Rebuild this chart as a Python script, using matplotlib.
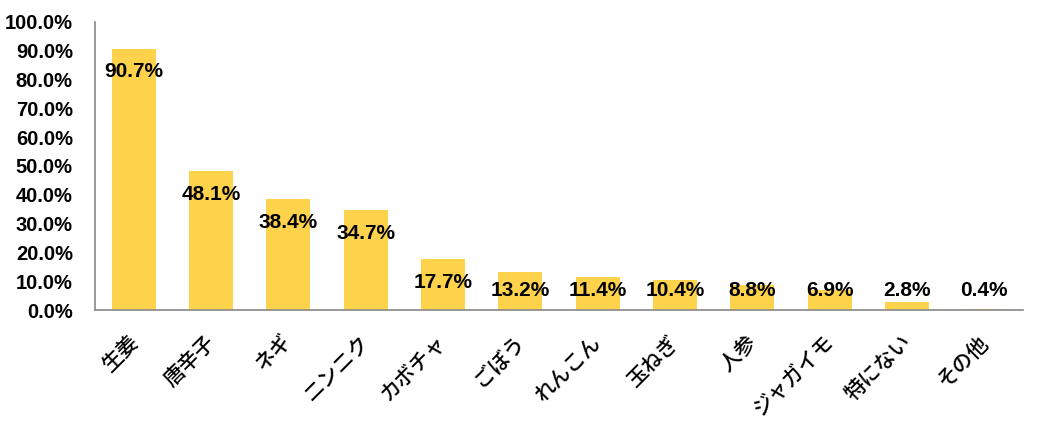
import matplotlib.pyplot as plt
import matplotlib.transforms as mtransforms
from matplotlib.ticker import PercentFormatter

categories = ["生姜", "唐辛子", "ネギ", "ニンニク", "カボチャ", "ごぼう",
              "れんこん", "玉ねぎ", "人参", "ジャガイモ", "特にない", "その他"]
values = [90.7, 48.1, 38.4, 34.7, 17.7, 13.2, 11.4, 10.4, 8.8, 6.9, 2.8, 0.4]

plt.rcParams['font.family'] = ['Liberation Sans', 'DejaVu Sans']

fig = plt.figure(figsize=(10.47, 4.29), dpi=100)
ax = fig.add_axes([95 / 1047, 1 - 310 / 429, 928 / 1047, 288 / 429])

x = range(len(categories))
ax.bar(x, values, width=0.57, color="#FFD24C")

for i, v in enumerate(values):
    y = max(v - 8, 6.6)
    ax.text(i, y, f"{v:.1f}%", ha="center", va="center",
            fontsize=15, fontweight="bold", color="black")

ax.set_xlim(-0.5, len(categories) - 0.5)
ax.set_ylim(0, 100)
ax.set_yticks(range(0, 101, 10))
ax.yaxis.set_major_formatter(PercentFormatter(decimals=1))
ax.tick_params(axis="y", length=0, pad=16, labelsize=14.5)
for lbl in ax.get_yticklabels():
    lbl.set_fontweight("bold")

ax.set_xticks(list(x))
ax.set_xticklabels(categories, rotation=45, ha="right", rotation_mode="anchor",
                   family=["Noto Sans CJK JP", "DejaVu Sans"], fontsize=15,
                   fontweight="medium")
ax.tick_params(axis="x", length=0, pad=15)
shift = mtransforms.ScaledTranslation(-7 / 100, 0, fig.dpi_scale_trans)
for lbl in ax.get_xticklabels():
    lbl.set_transform(lbl.get_transform() + shift)

for s in ["top", "right"]:
    ax.spines[s].set_visible(False)
for s in ["left", "bottom"]:
    ax.spines[s].set_color("#888888")
    ax.spines[s].set_linewidth(1.2)

fig.savefig("out.png", dpi=100)
